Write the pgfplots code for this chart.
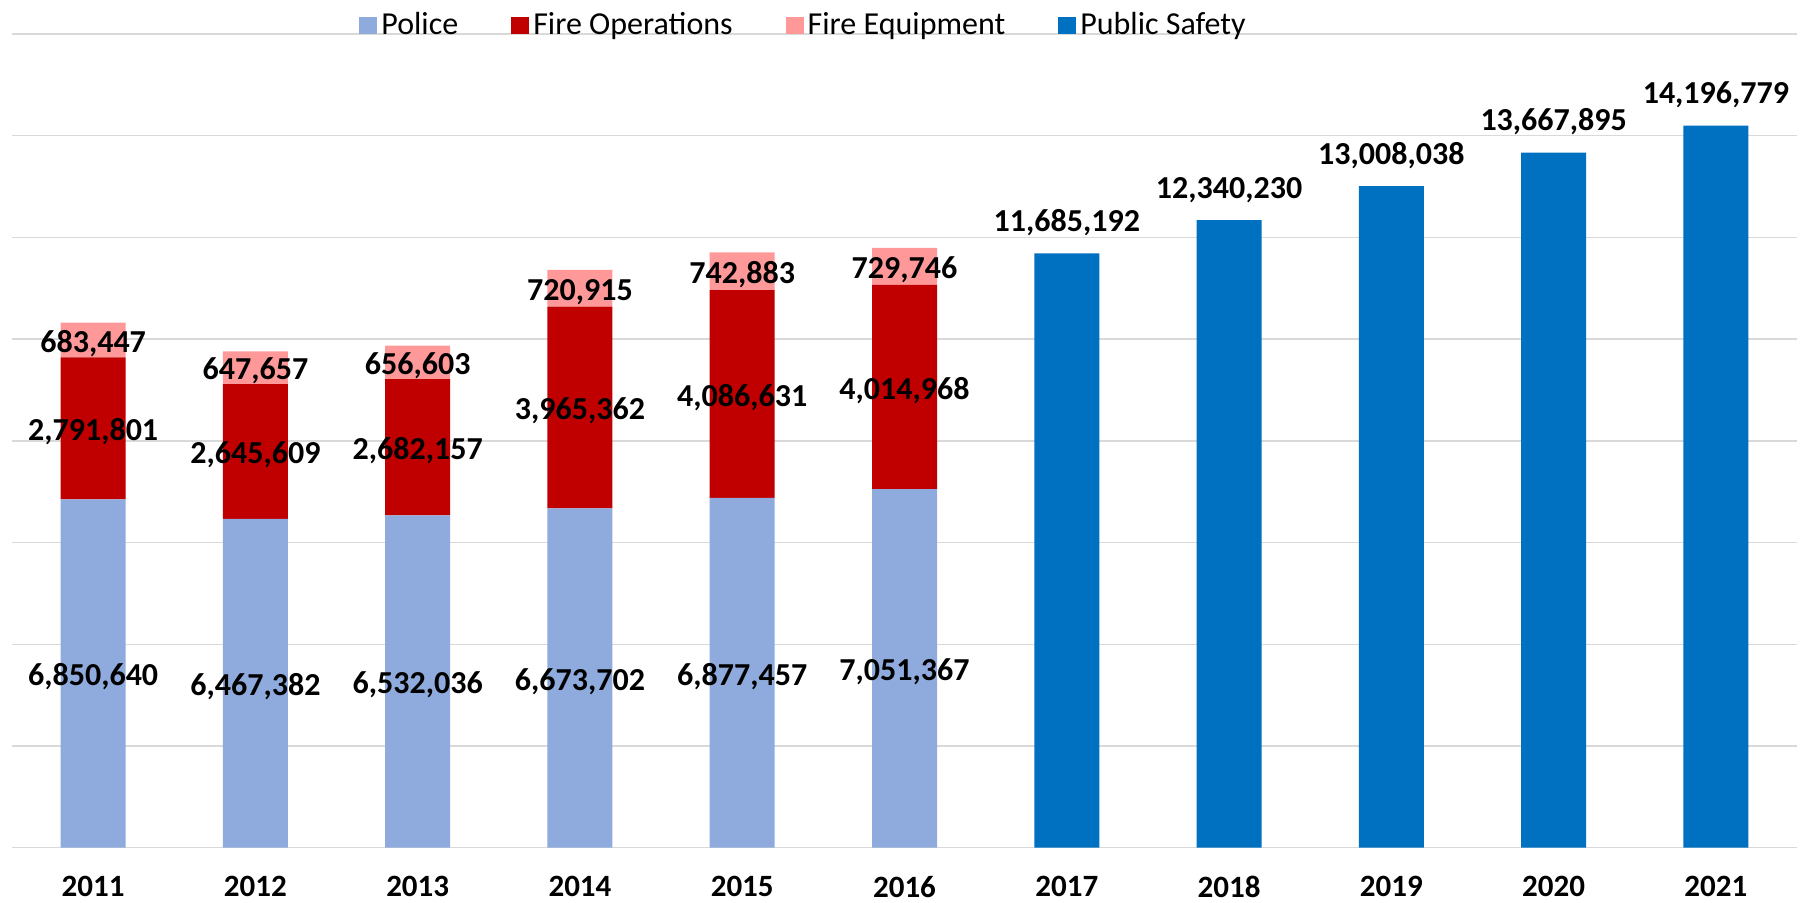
\documentclass[border=0pt]{standalone}
\usepackage{fontspec}
\setmainfont{Carlito}
\usepackage{pgfplots}
\usepackage{pgfplotstable}
\pgfplotsset{compat=1.18}

\definecolor{police}{RGB}{143,170,220}
\definecolor{fireops}{RGB}{192,0,0}
\definecolor{fireequip}{RGB}{255,153,153}
\definecolor{safety}{RGB}{0,112,192}
\definecolor{gridgray}{RGB}{217,217,217}

% 2011..2016 plotted at 0..5, 2017..2021 at 6..10
\pgfplotstableread{
x y label
0 6850640 6,850,640
1 6467382 6,467,382
2 6532036 6,532,036
3 6673702 6,673,702
4 6877457 6,877,457
5 7051367 7,051,367
}\tpolice
\pgfplotstableread{
x y label
0 2791801 2,791,801
1 2645609 2,645,609
2 2682157 2,682,157
3 3965362 3,965,362
4 4086631 4,086,631
5 4014968 4,014,968
}\tfireops
\pgfplotstableread{
x y label
0 683447 683,447
1 647657 647,657
2 656603 656,603
3 720915 720,915
4 742883 742,883
5 729746 729,746
}\tfireequip
\pgfplotstableread{
x y label
6 11685192 11,685,192
7 12340230 12,340,230
8 13008038 13,008,038
9 13667895 13,667,895
10 14196779 14,196,779
}\tsafety

\pgfplotsset{
  budget/.style={
    scale only axis, width=892.5pt, height=406.85pt,
    at={(0pt,0pt)}, anchor=south west,
    xmin=-0.5, xmax=10.5, ymin=0, ymax=16000000,
    bar width=32.5pt, clip=false,
  },
}
\newcommand{\lblfont}{\fontsize{16}{19}\selectfont\bfseries}

\begin{document}
\begin{tikzpicture}
\begin{axis}[budget,
  ybar stacked,
  axis line style={draw=none},
  major tick length=0pt,
  ytick={0,2000000,4000000,6000000,8000000,10000000,12000000,14000000,16000000},
  scaled y ticks=false, yticklabels={},
  ymajorgrids, grid style={gridgray, line width=0.7pt},
  xtick={0,1,2,3,4,5,6,7,8,9,10},
  xticklabels={2011,2012,2013,2014,2015,2016,2017,2018,2019,2020,2021},
  xticklabel style={font=\fontsize{15.5}{18}\selectfont\bfseries, anchor=north, inner sep=0pt, yshift=-14pt},
  point meta=explicit symbolic,
  nodes near coords,
  every node near coord/.append style={font=\lblfont, text=black, anchor=center, yshift=-1.7pt},
  legend columns=-1,
  legend style={draw=none, fill=none, at={(0.444,1)}, anchor=center, yshift=4.6pt,
    font=\fontsize{16}{19}\selectfont,
    /tikz/every even column/.append style={column sep=24.5pt}},
  legend image code/.code={\fill[#1] (0pt,-4.5pt) rectangle (9pt,4pt);},
]
\addplot[fill=police, draw=none] table[x=x, y=y, meta=label] {\tpolice};
\addlegendentry{Police}
\addplot[fill=fireops, draw=none] table[x=x, y=y, meta=label] {\tfireops};
\addlegendentry{Fire Operations}
\addplot[fill=fireequip, draw=none] table[x=x, y=y, meta=label] {\tfireequip};
\addlegendentry{Fire Equipment}
\addlegendimage{fill=safety, draw=none}
\addlegendentry{Public Safety}
\end{axis}
\begin{axis}[budget,
  hide axis,
  ybar, bar shift=0pt,
  point meta=explicit symbolic,
  nodes near coords,
  every node near coord/.append style={font=\lblfont, text=black, anchor=base, inner sep=0pt, yshift=11pt},
]
\addplot[fill=safety, draw=none] table[x=x, y=y, meta=label] {\tsafety};
\end{axis}
\pgfresetboundingbox
\path[use as bounding box] (-6pt,-27.65pt) rectangle (898pt,423.85pt);
\end{tikzpicture}
\end{document}
